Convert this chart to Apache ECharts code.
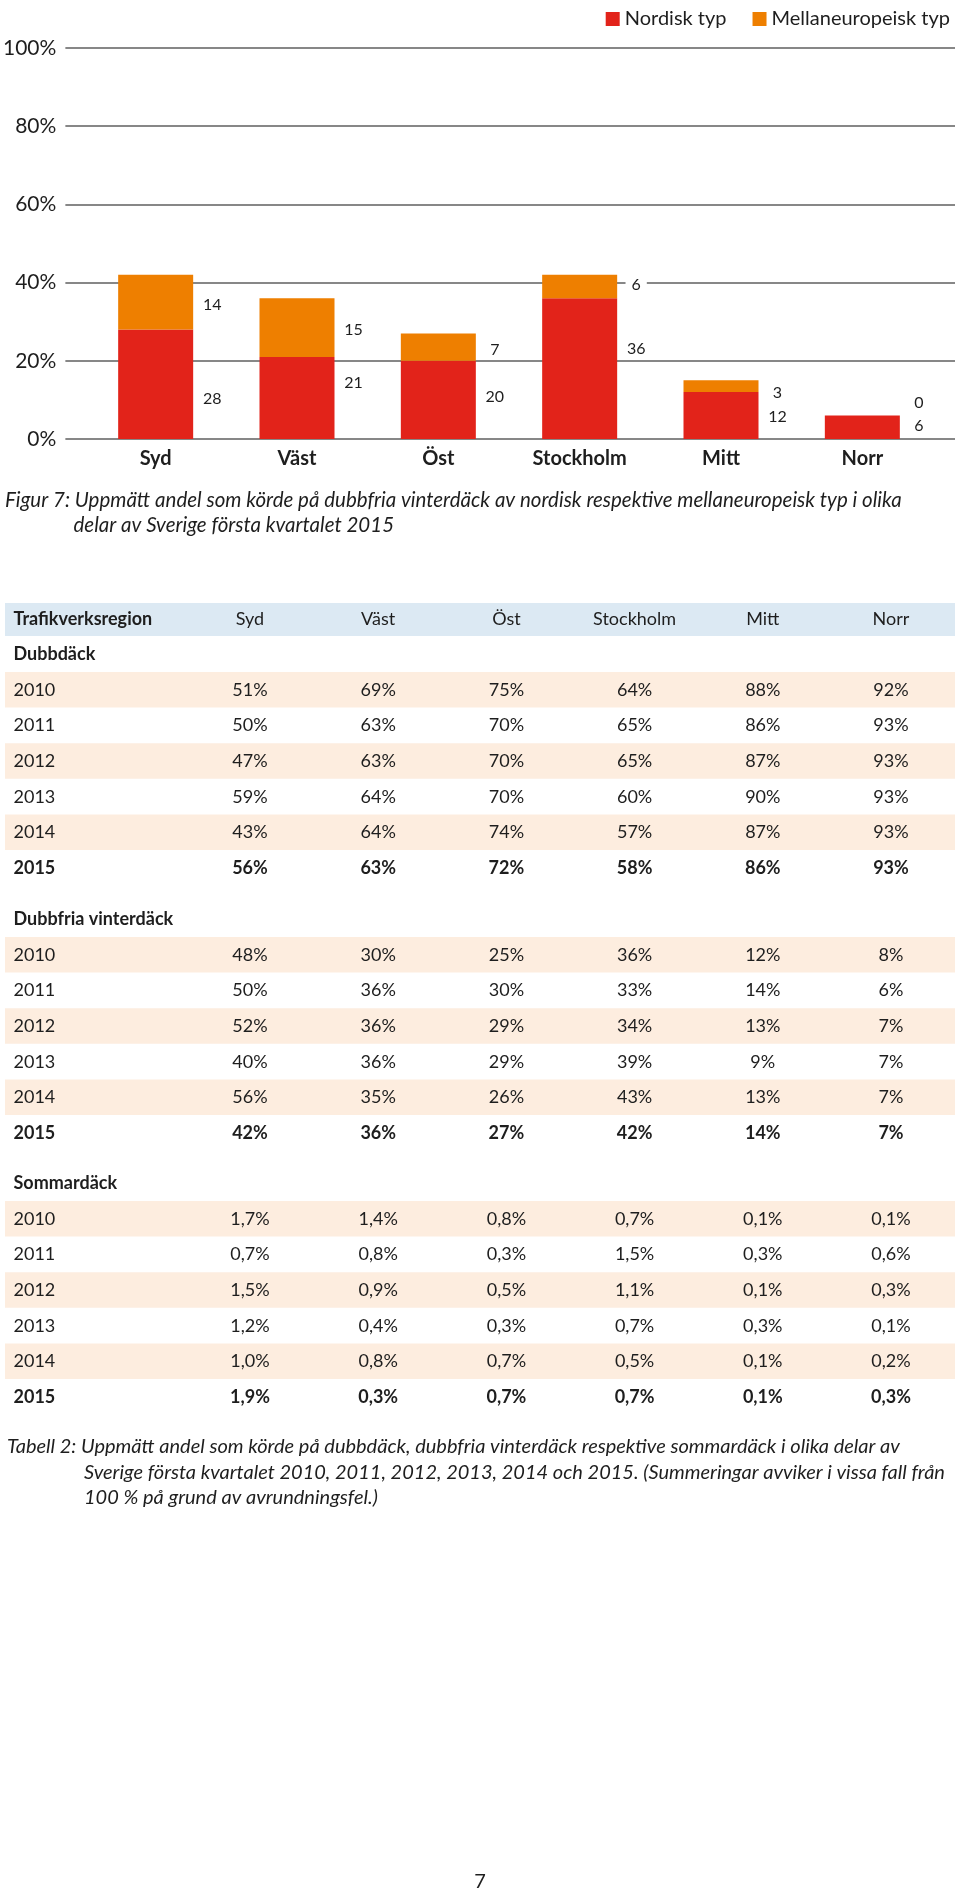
<!DOCTYPE html>
<html>
<head>
<meta charset="utf-8">
<script src="https://cdn.jsdelivr.net/npm/echarts@6/dist/echarts.min.js"></script>
<style>
  html, body { margin: 0; padding: 0; background: #fff; }
  #chart { width: 960px; height: 1894px; }
</style>
</head>
<body>
<div id="chart"></div>
<script>
// ---------- data ----------
const categories = ['Syd', 'Väst', 'Öst', 'Stockholm', 'Mitt', 'Norr'];
const nordisk = [28, 21, 20, 36, 12, 6];
const mellaneuropeisk = [14, 15, 7, 6, 3, 0];
const seriesNames = ['Nordisk typ', 'Mellaneuropeisk typ'];
const yMin = 0, yMax = 100, yInterval = 20;

const figCaption = [
  'Figur 7: Uppmätt andel som körde på dubbfria vinterdäck av nordisk respektive mellaneuropeisk typ i olika',
  'delar av Sverige första kvartalet 2015'
];

const tableHeader = 'Trafikverksregion';
const years = ['2010', '2011', '2012', '2013', '2014', '2015'];
const sectionNames = ['Dubbdäck', 'Dubbfria vinterdäck', 'Sommardäck'];
const dubbdack = [
  [51, 69, 75, 64, 88, 92],
  [50, 63, 70, 65, 86, 93],
  [47, 63, 70, 65, 87, 93],
  [59, 64, 70, 60, 90, 93],
  [43, 64, 74, 57, 87, 93],
  [56, 63, 72, 58, 86, 93]
];
const dubbfria = [
  [48, 30, 25, 36, 12, 8],
  [50, 36, 30, 33, 14, 6],
  [52, 36, 29, 34, 13, 7],
  [40, 36, 29, 39, 9, 7],
  [56, 35, 26, 43, 13, 7],
  [42, 36, 27, 42, 14, 7]
];
const sommardack = [
  [1.7, 1.4, 0.8, 0.7, 0.1, 0.1],
  [0.7, 0.8, 0.3, 1.5, 0.3, 0.6],
  [1.5, 0.9, 0.5, 1.1, 0.1, 0.3],
  [1.2, 0.4, 0.3, 0.7, 0.3, 0.1],
  [1.0, 0.8, 0.7, 0.5, 0.1, 0.2],
  [1.9, 0.3, 0.7, 0.7, 0.1, 0.3]
];
const tableCaption = [
  'Tabell 2: Uppmätt andel som körde på dubbdäck, dubbfria vinterdäck respektive sommardäck i olika delar av',
  'Sverige första kvartalet 2010, 2011, 2012, 2013, 2014 och 2015. (Summeringar avviker i vissa fall från',
  '100 % på grund av avrundningsfel.)'
];
const pageNumber = '7';

// ---------- styles / positions ----------
const FONT = 'Lato, "Open Sans", "Noto Sans", "DejaVu Sans", sans-serif';
const RED = '#e2231a';
const ORANGE = '#ee7f00';
const TXT = '#1e1e1e';
const GRID_LINE = '#5f5f5f';
const BLUE_BG = '#dce9f3';
const PEACH_BG = '#fdeddf';
// label vertical nudges (style only)
const labelDyNordisk = [14.5, -15, -3.5, -20, 1.5, -1.5];
const labelDyMellan = [2.5, 2, 2.6, -2, 6.5, -13];

const chart = echarts.init(document.getElementById('chart'), null, { renderer: 'canvas' });

// ---------- table as graphic elements ----------
const graphic = [];
function txt(x, y, s, opts) {
  opts = opts || {};
  const align = opts.align || 'left';
  graphic.push({
    type: 'text', x: x, y: y, silent: true,
    style: {
      text: s,
      font: (opts.italic ? 'italic ' : '') + (opts.bold ? 'bold ' : '') + (opts.size || 18) + 'px ' + FONT,
      fill: TXT,
      align: align, textAlign: align,
      verticalAlign: 'middle', textVerticalAlign: 'middle'
    }
  });
}
function band(y, h, color) {
  graphic.push({ type: 'rect', silent: true, shape: { x: 5, y: y, width: 950, height: h }, style: { fill: color } });
}

// figure caption
txt(5, 500, figCaption[0], { italic: true, size: 20.5 });
txt(73.5, 525, figCaption[1], { italic: true, size: 20.5 });

// table header
const colX = [250, 378.2, 506.4, 634.6, 762.8, 891];
band(603, 33, BLUE_BG);
txt(13.5, 619.5, tableHeader, { bold: true });
categories.forEach((c, i) => txt(colX[i], 619.5, c, { align: 'center' }));

const sections = [
  { name: sectionNames[0], data: dubbdack, fmt: v => v + '%', top: 654 },
  { name: sectionNames[1], data: dubbfria, fmt: v => v + '%', top: 919 },
  { name: sectionNames[2], data: sommardack, fmt: v => v.toFixed(1).replace('.', ',') + '%', top: 1183 }
];
const ROW_H = 35.6;
sections.forEach(sec => {
  txt(13.5, sec.top, sec.name, { bold: true });
  years.forEach((yr, r) => {
    const cy = sec.top + 36 + r * ROW_H;
    if (r % 2 === 0) band(cy - 18, 35.5, PEACH_BG);
  });
  years.forEach((yr, r) => {
    const cy = sec.top + 36 + r * ROW_H;
    const bold = r === years.length - 1;
    txt(13.5, cy, yr, { bold: bold });
    sec.data[r].forEach((v, c) => txt(colX[c], cy, sec.fmt(v), { align: 'center', bold: bold }));
  });
});

// table caption
txt(7, 1447, tableCaption[0], { italic: true, size: 20 });
txt(84, 1473, tableCaption[1], { italic: true, size: 20 });
txt(84, 1498, tableCaption[2], { italic: true, size: 20 });
// page number
txt(480, 1882, pageNumber, { align: 'center', size: 20 });

// ---------- chart ----------
const labelBase = {
  show: true,
  position: 'right',
  distance: 0,
  align: 'center',
  verticalAlign: 'middle',
  color: TXT,
  fontFamily: FONT,
  fontSize: 16,
  backgroundColor: '#fff',
  padding: [1, 6, 1, 6]
};

const option = {
  animation: false,
  backgroundColor: '#fff',
  textStyle: { fontFamily: FONT },
  legend: {
    right: 5,
    top: 4,
    itemWidth: 14,
    itemHeight: 14,
    itemGap: 26,
    icon: 'rect',
    textStyle: { fontSize: 20, color: TXT, fontFamily: FONT },
    data: seriesNames
  },
  grid: [
    { left: 64, right: 5, top: 48, height: 391 },
    { left: 85, width: 848, top: 48, height: 391 }
  ],
  xAxis: [
    { gridIndex: 0, type: 'value', min: 0, max: 1, show: false },
    {
      gridIndex: 1, type: 'category', data: categories,
      axisLine: { show: false }, axisTick: { show: false },
      axisLabel: { margin: 10, fontSize: 20, fontWeight: 'bold', color: TXT, fontFamily: FONT }
    }
  ],
  yAxis: [
    {
      gridIndex: 0, type: 'value', min: yMin, max: yMax, interval: yInterval,
      axisLine: { show: false }, axisTick: { show: false },
      axisLabel: { formatter: '{value}%', margin: 9, fontSize: 21, color: TXT, fontFamily: FONT },
      splitLine: { show: true, lineStyle: { color: GRID_LINE, width: 1.5 } }
    },
    { gridIndex: 1, type: 'value', min: yMin, max: yMax, show: false, splitLine: { show: false } }
  ],
  series: [
    {
      name: seriesNames[0], type: 'bar', stack: 'tot', xAxisIndex: 1, yAxisIndex: 1,
      barWidth: 75, itemStyle: { color: RED },
      label: labelBase,
      data: nordisk.map((v, i) => ({ value: v, label: { offset: [19, labelDyNordisk[i]] } }))
    },
    {
      name: seriesNames[1], type: 'bar', stack: 'tot', xAxisIndex: 1, yAxisIndex: 1,
      barWidth: 75, itemStyle: { color: ORANGE },
      label: labelBase,
      data: mellaneuropeisk.map((v, i) => ({ value: v, label: { offset: [19, labelDyMellan[i]] } }))
    }
  ],
  graphic: graphic
};
chart.setOption(option);
</script>
</body>
</html>
